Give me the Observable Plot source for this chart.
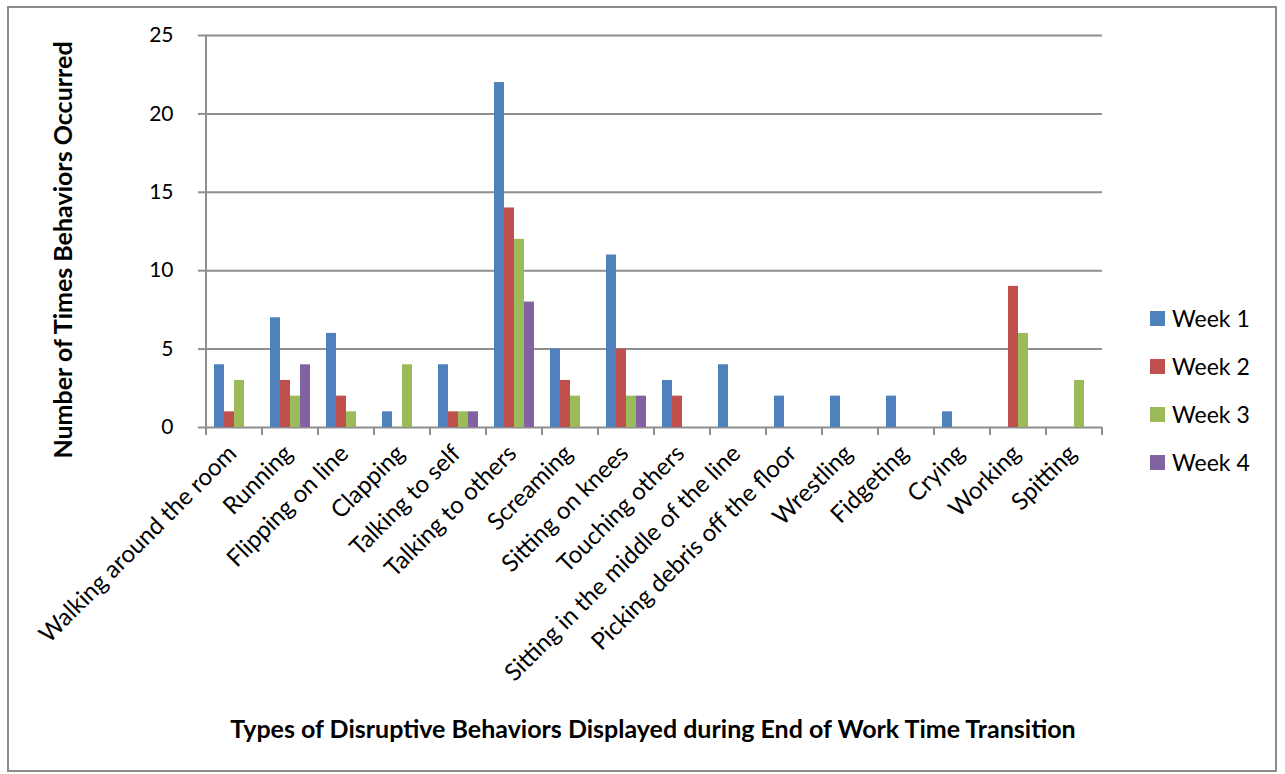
<!DOCTYPE html>
<html>
<head>
<meta charset="utf-8">
<script src="https://cdn.jsdelivr.net/npm/d3@7"></script>
<script src="https://cdn.jsdelivr.net/npm/@observablehq/plot@0.6"></script>
<style>
  html, body { margin: 0; padding: 0; background: #fff; }
  #wrap { position: relative; width: 1285px; height: 774px; font-family: Lato, "Open Sans", sans-serif; }
  #border { position: absolute; left: 7px; top: 6px; width: 1270px; height: 766px; border: 2px solid #8c8c8c; box-sizing: border-box; pointer-events: none; }
  #chart { position: absolute; left: 0; top: 0; }
  #ytitle { position: absolute; left: 62px; top: 250px; transform: translate(-50%, -50%) rotate(-90deg); white-space: nowrap; font-weight: bold; font-size: 25px; color: #000; }
  #xtitle { position: absolute; left: 653px; top: 728px; transform: translate(-50%, -50%); white-space: nowrap; font-weight: bold; font-size: 25px; color: #000; }
  #legend { position: absolute; left: 1150px; top: 304px; font-size: 23px; color: #000; }
  .li { display: flex; align-items: center; height: 28px; margin-bottom: 20px; }
  .sw { width: 15px; height: 15px; margin-right: 7px; }
</style>
</head>
<body>
<div id="wrap">
  <div id="chart"></div>
  <div id="ytitle"></div>
  <div id="xtitle"></div>
  <div id="legend"></div>
  <div id="border"></div>
</div>
<script>
const categories = [
  "Walking around the room", "Running", "Flipping on line", "Clapping",
  "Talking to self", "Talking to others", "Screaming", "Sitting on knees",
  "Touching others", "Sitting in the middle of the line", "Picking debris off the floor",
  "Wrestling", "Fidgeting", "Crying", "Working", "Spitting"
];
const weeks = ["Week 1", "Week 2", "Week 3", "Week 4"];
const week1 = [4, 7, 6, 1, 4, 22, 5, 11, 3, 4, 2, 2, 2, 1, 0, 0];
const week2 = [1, 3, 2, 0, 1, 14, 3, 5, 2, 0, 0, 0, 0, 0, 9, 0];
const week3 = [3, 2, 1, 4, 1, 12, 2, 2, 0, 0, 0, 0, 0, 0, 6, 3];
const week4 = [0, 4, 0, 0, 1, 8, 0, 2, 0, 0, 0, 0, 0, 0, 0, 0];
const colors = ["#4F81BD", "#C0504D", "#9BBB59", "#8064A2"];
const yTicks = [0, 5, 10, 15, 20, 25];
const yTitle = "Number of Times Behaviors Occurred";
const xTitle = "Types of Disruptive Behaviors Displayed during End of Work Time Transition";

const series = [week1, week2, week3, week4];
const data = [];
categories.forEach((c, i) => {
  weeks.forEach((w, j) => {
    const v = series[j][i];
    if (v > 0) data.push({category: c, week: w, value: v});
  });
});

const gray = "#8e8e8e";
const fig = Plot.plot({
  width: 1285,
  height: 774,
  marginLeft: 200,
  marginRight: 178,
  marginTop: 35,
  marginBottom: 347,
  style: {fontFamily: "Lato, 'Open Sans', sans-serif", color: "#000", background: "transparent"},
  fx: {domain: categories, padding: 0, label: null},
  x: {domain: weeks, paddingInner: 0, paddingOuter: 0.76, axis: null},
  y: {domain: [0, 25], label: null},
  color: {domain: weeks, range: colors},
  marks: [
    Plot.gridY(yTicks, {stroke: gray, strokeOpacity: 1, strokeWidth: 2}),
    Plot.axisY(yTicks, {tickSize: 8, tickPadding: 25, fontSize: 21, stroke: gray, strokeWidth: 2, label: null}),
    Plot.barY(data, {fx: "category", x: "week", y: "value", fill: "week"}),
    Plot.axisFx({anchor: "bottom", tickSize: 0, tickRotate: -45, tickPadding: 22, dx: -2, fontSize: 24, label: null})
  ]
});

// category boundary ticks and the y-axis line, placed through Plot's own scales
const fx = fig.scale("fx");
const ys = fig.scale("y");
const y0 = ys.apply(0), yTop = ys.apply(25);
const bounds = categories.map(c => fx.apply(c));
bounds.push(fx.apply(categories[categories.length - 1]) + fx.bandwidth);
const g = d3.select(fig).append("g").attr("stroke", gray).attr("stroke-width", 2);
g.selectAll("line.b").data(bounds).join("line")
  .attr("x1", d => d).attr("x2", d => d).attr("y1", y0).attr("y2", y0 + 8);
g.append("line").attr("x1", bounds[0]).attr("x2", bounds[0]).attr("y1", y0).attr("y2", yTop);

document.getElementById("chart").appendChild(fig);
document.getElementById("ytitle").textContent = yTitle;
document.getElementById("xtitle").textContent = xTitle;
const lg = document.getElementById("legend");
weeks.forEach((w, i) => {
  const row = document.createElement("div");
  row.className = "li";
  const sw = document.createElement("span");
  sw.className = "sw";
  sw.style.background = colors[i];
  const t = document.createElement("span");
  t.textContent = w;
  row.appendChild(sw); row.appendChild(t);
  lg.appendChild(row);
});
</script>
</body>
</html>
